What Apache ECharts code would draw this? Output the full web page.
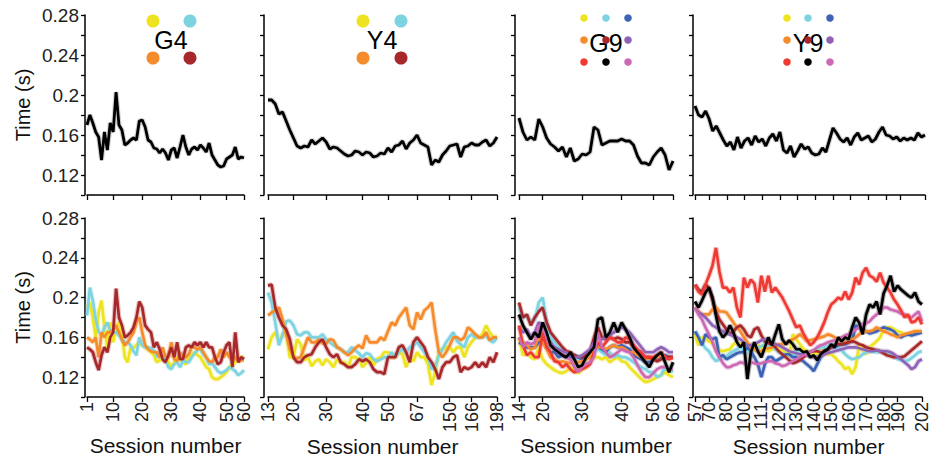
<!DOCTYPE html>
<html><head><meta charset="utf-8">
<script src="https://cdn.jsdelivr.net/npm/echarts@6/dist/echarts.min.js"></script>
<style>html,body{margin:0;padding:0;background:#fff}#c{width:931px;height:460px}</style>
</head><body><div id="c"></div>
<script>
// ---------- categories (session numbers actually plotted) ----------
const g4Sessions = [1,2,3,4,5,6,7,8,9,10,11,12,13,14,15,16,17,18,19,20,21,22,23,24,25,26,27,28,29,30,31,32,33,34,35,36,37,38,39,40,41,42,43,44,46,47,48,49,50,52,54,56,57,58,60];
const y4Sessions = [13,14,15,16,17,18,19,20,21,22,24,25,26,27,28,29,30,31,32,33,34,35,36,37,38,39,40,41,43,44,45,47,48,50,52,54,56,58,60,62,64,67,70,80,90,100,110,120,130,140,150,152,155,158,160,163,166,170,175,180,185,190,194,198];
const g9Sessions = [14,15,16,17,18,19,20,21,22,23,24,25,26,27,28,29,30,31,32,33,34,35,36,37,38,39,40,41,42,43,45,46,47,48,50,52,54,56,58,60];
const y9Sessions = [57,60,63,66,70,72,74,76,78,80,84,88,92,96,100,102,104,106,108,111,113,115,116,118,120,122,124,126,128,130,132,134,136,138,140,142,144,146,148,150,152,154,156,158,160,162,164,166,168,170,172,174,176,178,180,183,185,188,190,192,194,196,198,200,201,202];

// ---------- tick labels ----------
const g4TickSessions = [1,10,20,30,40,50,60];
const y4TickSessions = [13,20,30,40,50,67,150,166,198];
const g9TickSessions = [14,20,30,40,50,60];
const y9TickSessions = [57,70,80,100,111,120,130,140,150,160,170,180,190,202];
const yTickLabels = [0.12,0.16,0.2,0.24,0.28];

// ---------- top row: mean time (s) ----------
const g4Mean = [.170,.180,.172,.163,.158,.135,.163,.145,.172,.163,.203,.170,.165,.150,.152,.155,.157,.155,.174,.175,.168,.155,.153,.147,.146,.142,.146,.142,.135,.145,.147,.137,.148,.160,.148,.140,.146,.148,.145,.150,.147,.143,.152,.140,.135,.130,.128,.129,.136,.138,.140,.148,.136,.138,.137];
const y4Mean = [.195,.195,.191,.181,.183,.174,.165,.157,.149,.147,.149,.148,.155,.151,.154,.157,.153,.146,.148,.147,.144,.141,.139,.140,.144,.143,.140,.143,.142,.138,.139,.142,.141,.147,.143,.149,.150,.154,.146,.152,.155,.160,.152,.150,.148,.130,.135,.133,.140,.144,.149,.150,.151,.138,.148,.149,.152,.150,.150,.153,.155,.149,.152,.158];
const g9Mean = [.177,.163,.155,.158,.155,.176,.168,.157,.151,.148,.144,.148,.138,.147,.134,.136,.141,.140,.143,.168,.165,.150,.152,.154,.154,.154,.156,.154,.154,.150,.139,.132,.132,.130,.138,.143,.147,.140,.125,.134];
const y9Mean = [.189,.180,.178,.184,.176,.164,.169,.162,.155,.149,.153,.145,.158,.147,.154,.157,.150,.159,.153,.156,.149,.157,.161,.154,.163,.145,.142,.149,.138,.144,.151,.146,.148,.142,.140,.141,.147,.143,.155,.167,.162,.156,.153,.157,.150,.158,.162,.155,.157,.159,.153,.156,.163,.168,.160,.159,.156,.158,.154,.157,.155,.157,.155,.162,.158,.160];

// ---------- bottom row: per-individual time (s) ----------
const g4Yellow = [.190,.195,.180,.160,.185,.197,.170,.150,.175,.155,.170,.175,.165,.140,.135,.150,.150,.152,.155,.152,.150,.148,.145,.142,.135,.137,.138,.140,.135,.130,.135,.140,.138,.135,.133,.140,.142,.145,.142,.140,.135,.130,.128,.120,.118,.118,.120,.122,.125,.130,.132,.135,.138,.140,.140];
const g4Cyan = [.182,.210,.197,.178,.166,.162,.170,.175,.166,.165,.165,.162,.158,.155,.155,.152,.146,.142,.160,.152,.150,.150,.149,.147,.141,.140,.140,.137,.130,.128,.133,.135,.130,.137,.135,.135,.140,.144,.147,.148,.143,.140,.133,.134,.130,.126,.124,.125,.127,.130,.128,.126,.122,.124,.127];
const g4Orange = [.160,.158,.155,.160,.140,.165,.160,.165,.165,.168,.172,.165,.158,.152,.155,.160,.165,.175,.180,.165,.152,.148,.146,.145,.145,.140,.150,.140,.140,.155,.138,.136,.145,.140,.140,.143,.150,.150,.148,.150,.145,.140,.136,.135,.140,.140,.148,.140,.145,.140,.138,.140,.136,.137,.137];
const g4DarkRed = [.150,.148,.145,.135,.127,.142,.150,.145,.160,.165,.209,.180,.172,.160,.162,.165,.170,.180,.196,.190,.172,.168,.165,.150,.155,.148,.138,.135,.142,.150,.140,.155,.138,.138,.150,.152,.150,.155,.152,.155,.150,.155,.150,.150,.140,.133,.135,.145,.152,.155,.130,.165,.135,.140,.138];

const y4Yellow = [.148,.160,.165,.156,.163,.165,.140,.140,.158,.153,.137,.140,.131,.136,.138,.132,.138,.135,.130,.138,.135,.135,.130,.140,.140,.138,.130,.134,.140,.132,.138,.140,.145,.145,.140,.140,.145,.143,.130,.140,.136,.145,.140,.140,.133,.112,.125,.145,.148,.150,.150,.145,.150,.150,.140,.150,.155,.160,.160,.163,.172,.165,.160,.160];
const y4Cyan = [.205,.195,.175,.152,.162,.176,.177,.172,.163,.162,.165,.165,.160,.160,.160,.163,.158,.155,.152,.150,.148,.145,.145,.150,.147,.144,.140,.144,.143,.138,.136,.138,.140,.140,.145,.140,.145,.148,.145,.150,.152,.155,.150,.145,.140,.128,.130,.142,.148,.155,.160,.165,.156,.153,.150,.160,.163,.160,.160,.160,.162,.157,.155,.160];
const y4Orange = [.182,.185,.187,.190,.178,.163,.148,.140,.139,.140,.150,.160,.155,.155,.158,.154,.154,.158,.157,.150,.148,.145,.142,.145,.149,.152,.149,.162,.155,.155,.155,.160,.157,.166,.175,.172,.180,.185,.190,.172,.168,.185,.178,.187,.190,.195,.168,.145,.140,.145,.152,.160,.160,.157,.160,.170,.167,.163,.160,.160,.165,.157,.160,.160];
const y4DarkRed = [.212,.213,.190,.180,.172,.168,.158,.140,.135,.135,.140,.142,.143,.150,.155,.158,.150,.143,.140,.143,.135,.133,.130,.130,.133,.138,.136,.138,.135,.128,.125,.125,.123,.140,.140,.140,.150,.152,.145,.135,.155,.160,.155,.150,.140,.135,.128,.118,.130,.135,.135,.140,.142,.125,.130,.128,.130,.135,.130,.135,.130,.140,.135,.145];

const g9Yellow = [.16,.142,.145,.14,.138,.15,.138,.133,.13,.127,.125,.124,.126,.13,.126,.124,.128,.13,.135,.14,.14,.138,.14,.135,.138,.14,.136,.135,.13,.126,.122,.118,.115,.116,.118,.12,.122,.125,.122,.12];
const g9Cyan = [.19,.18,.182,.175,.178,.195,.2,.175,.16,.155,.15,.148,.145,.14,.142,.138,.14,.14,.142,.145,.148,.145,.142,.145,.14,.142,.14,.14,.138,.135,.132,.13,.128,.125,.125,.12,.122,.13,.128,.125];
const g9Blue = [.155,.152,.15,.15,.15,.155,.16,.15,.145,.145,.14,.142,.14,.14,.142,.14,.138,.142,.145,.148,.15,.148,.145,.15,.152,.15,.152,.15,.148,.142,.14,.138,.135,.135,.138,.14,.14,.142,.14,.14];
const g9Orange = [.16,.155,.152,.148,.15,.16,.155,.148,.14,.138,.135,.136,.135,.134,.135,.135,.136,.138,.14,.148,.15,.15,.148,.15,.152,.15,.15,.148,.145,.145,.142,.14,.14,.138,.14,.14,.142,.14,.14,.14];
const g9DarkRed = [.195,.18,.183,.172,.18,.186,.19,.175,.165,.16,.155,.15,.146,.145,.142,.14,.14,.142,.145,.16,.17,.16,.158,.16,.158,.16,.158,.155,.155,.15,.145,.142,.14,.14,.138,.136,.138,.14,.14,.14];
const g9Purple = [.17,.165,.168,.16,.165,.175,.172,.16,.155,.15,.148,.146,.145,.142,.14,.14,.142,.145,.148,.155,.16,.158,.16,.162,.165,.168,.17,.168,.165,.16,.155,.15,.145,.145,.145,.148,.15,.148,.145,.145];
const g9Red = [.172,.152,.142,.145,.14,.14,.165,.15,.145,.136,.135,.13,.133,.128,.125,.126,.128,.13,.133,.145,.155,.15,.155,.16,.158,.155,.155,.16,.158,.152,.148,.145,.14,.14,.14,.142,.145,.14,.138,.14];
const g9Black = [.183,.172,.165,.158,.165,.16,.175,.165,.152,.148,.145,.142,.14,.145,.138,.13,.132,.14,.145,.15,.178,.18,.16,.165,.175,.165,.175,.168,.16,.15,.145,.14,.135,.13,.138,.142,.145,.135,.125,.135];
const g9Pink = [.16,.15,.155,.153,.155,.172,.17,.16,.152,.148,.145,.143,.14,.138,.13,.125,.13,.133,.135,.14,.165,.15,.145,.14,.142,.145,.148,.146,.145,.14,.132,.125,.12,.12,.124,.128,.13,.13,.128,.128];

const y9Yellow = [.163,.152,.160,.158,.156,.154,.150,.147,.146,.147,.148,.153,.154,.153,.150,.148,.147,.148,.152,.150,.148,.146,.148,.150,.148,.146,.144,.142,.163,.158,.153,.148,.146,.144,.143,.144,.146,.145,.143,.143,.140,.136,.133,.128,.130,.123,.130,.152,.148,.143,.150,.153,.156,.160,.168,.170,.170,.168,.166,.165,.163,.163,.164,.166,.166,.166];
const y9Cyan = [.166,.160,.154,.149,.146,.140,.136,.138,.140,.141,.144,.146,.148,.150,.148,.145,.146,.148,.150,.151,.153,.151,.150,.148,.145,.144,.143,.142,.141,.145,.146,.144,.143,.145,.146,.148,.150,.150,.151,.153,.151,.150,.147,.143,.140,.138,.139,.140,.143,.145,.146,.146,.145,.146,.146,.145,.143,.141,.138,.137,.136,.137,.139,.142,.145,.146];
const y9Blue = [.166,.160,.152,.163,.160,.158,.160,.140,.142,.138,.140,.142,.144,.145,.145,.150,.146,.140,.133,.120,.133,.140,.140,.136,.138,.140,.143,.143,.140,.140,.138,.136,.133,.130,.126,.133,.140,.144,.148,.150,.150,.152,.153,.153,.155,.156,.172,.170,.167,.166,.164,.165,.166,.168,.170,.169,.168,.166,.162,.160,.162,.163,.162,.163,.164,.165];
const y9Orange = [.190,.186,.183,.183,.183,.188,.190,.186,.186,.185,.180,.175,.170,.166,.160,.155,.150,.148,.146,.146,.148,.149,.150,.151,.153,.153,.154,.156,.158,.160,.163,.160,.156,.157,.158,.159,.160,.161,.163,.162,.160,.158,.156,.155,.155,.158,.160,.163,.166,.166,.166,.167,.170,.168,.166,.165,.163,.162,.160,.162,.163,.164,.165,.166,.166,.166];
const y9DarkRed = [.213,.208,.206,.213,.210,.198,.186,.178,.173,.168,.163,.166,.170,.172,.168,.162,.160,.168,.170,.162,.156,.154,.153,.150,.146,.143,.140,.137,.134,.135,.137,.140,.143,.145,.146,.146,.145,.146,.148,.150,.152,.153,.153,.154,.155,.156,.155,.153,.152,.150,.149,.148,.147,.146,.144,.142,.141,.140,.140,.140,.141,.144,.147,.150,.153,.156];
const y9Purple = [.190,.185,.183,.180,.176,.172,.170,.168,.166,.165,.163,.161,.160,.158,.155,.152,.152,.153,.155,.157,.158,.157,.155,.153,.152,.150,.148,.146,.145,.144,.143,.143,.142,.141,.140,.140,.141,.143,.144,.145,.146,.147,.148,.149,.150,.150,.150,.149,.148,.147,.146,.146,.147,.146,.146,.146,.145,.143,.140,.138,.135,.132,.128,.130,.136,.138];
const y9Red = [.213,.206,.203,.213,.222,.232,.250,.226,.210,.210,.205,.210,.190,.180,.220,.210,.218,.214,.195,.222,.206,.222,.205,.210,.205,.200,.193,.186,.178,.170,.172,.164,.158,.152,.155,.160,.167,.175,.185,.193,.196,.200,.198,.206,.198,.205,.220,.213,.225,.230,.222,.220,.216,.225,.215,.210,.205,.198,.193,.187,.180,.183,.175,.176,.180,.173];
const y9Black = [.196,.190,.197,.205,.210,.200,.182,.166,.160,.164,.172,.165,.155,.150,.155,.118,.145,.155,.146,.140,.150,.160,.152,.163,.173,.158,.153,.157,.153,.148,.148,.145,.146,.140,.142,.137,.143,.146,.148,.153,.150,.160,.156,.160,.158,.170,.180,.175,.163,.183,.193,.190,.196,.183,.204,.212,.222,.206,.212,.208,.205,.202,.200,.205,.196,.193];
const y9Pink = [.190,.183,.178,.170,.163,.155,.146,.140,.134,.130,.130,.132,.133,.135,.134,.133,.135,.134,.133,.134,.135,.136,.136,.134,.133,.131,.132,.134,.136,.138,.140,.142,.143,.145,.147,.150,.152,.153,.155,.156,.157,.158,.160,.162,.163,.165,.168,.170,.173,.174,.176,.180,.183,.186,.190,.190,.188,.187,.186,.184,.183,.181,.180,.183,.186,.176];

// ---------- colours ----------
const C = {yellow:'#EDE321', cyan:'#7ED3E1', blue:'#3E62B4', orange:'#F58B2B', darkred:'#A7282A', purple:'#9062B6', red:'#EE3A33', black:'#000000', pink:'#CD69B3'};

const panels = [
  {title:'G4', cats:g4Sessions, ticks:g4TickSessions, mean:g4Mean,
   lines:[[g4Yellow,C.yellow],[g4Cyan,C.cyan],[g4Orange,C.orange],[g4DarkRed,C.darkred]],
   left:87, width:157, off:2, legend:{big:true, cx:171, cols:[153,190], rows:[21,58], ty:40,
   colors:[[C.yellow,C.cyan],[C.orange,C.darkred]]}},
  {title:'Y4', cats:y4Sessions, ticks:y4TickSessions, mean:y4Mean,
   lines:[[y4Yellow,C.yellow],[y4Cyan,C.cyan],[y4Orange,C.orange],[y4DarkRed,C.darkred]],
   left:268, width:229, off:4, legend:{big:true, cx:382, cols:[363,401], rows:[21,58], ty:40,
   colors:[[C.yellow,C.cyan],[C.orange,C.darkred]]}},
  {title:'G9', cats:g9Sessions, ticks:g9TickSessions, mean:g9Mean,
   lines:[[g9Yellow,C.yellow],[g9Cyan,C.cyan],[g9Blue,C.blue],[g9Orange,C.orange],[g9DarkRed,C.darkred],[g9Purple,C.purple],[g9Red,C.red],[g9Pink,C.pink],[g9Black,C.black]],
   left:519, width:154, off:4, legend:{big:false, cx:606, cols:[584,606,628], rows:[18,40,62], ty:43,
   colors:[[C.yellow,C.cyan,C.blue],[C.orange,C.darkred,C.purple],[C.red,C.black,C.pink]]}},
  {title:'Y9', cats:y9Sessions, ticks:y9TickSessions, mean:y9Mean,
   lines:[[y9Yellow,C.yellow],[y9Cyan,C.cyan],[y9Blue,C.blue],[y9Orange,C.orange],[y9DarkRed,C.darkred],[y9Purple,C.purple],[y9Pink,C.pink],[y9Red,C.red],[y9Black,C.black]],
   left:695, width:230, off:2, legend:{big:false, cx:808, cols:[787,808,830], rows:[18,40,62], ty:43,
   colors:[[C.yellow,C.cyan,C.blue],[C.orange,C.darkred,C.purple],[C.red,C.black,C.pink]]}}
];

const FONT = "'Liberation Sans', Arial, sans-serif";
const rows = [{top:15, height:180}, {top:218, height:179}];
const grid = [], xAxis = [], yAxis = [], series = [], graphic = [];

panels.forEach((p, pi) => {
  const tickSet = new Set(p.ticks.map(String));
  const showIdx = (i, v) => tickSet.has(String(v));
  rows.forEach((r, ri) => {
    const gi = grid.length;
    grid.push({left:p.left, top:r.top, width:p.width, height:r.height, containLabel:false});
    xAxis.push({
      type:'category', gridIndex:gi, data:p.cats.map(String), boundaryGap:false,
      axisLine:{lineStyle:{color:'#000', width:1.5}},
      axisTick:{show:true, interval:showIdx, length:5, lineStyle:{color:'#000', width:1.3}},
      axisLabel:{show: ri===1, interval:0, rotate:90, fontSize:18, margin:5, color:'#222', fontFamily:FONT,
        hideOverlap:false, formatter: v => tickSet.has(String(v)) ? String(v) : ''},
      splitLine:{show:false},
      name: ri===1 ? 'Session number' : '', nameLocation:'middle', nameGap:38,
      nameTextStyle:{fontSize:21, color:'#111', fontFamily:FONT}
    });
    yAxis.push({
      type:'value', gridIndex:gi, min:0.1, max:0.28, interval:0.02, offset:p.off,
      axisLine:{show:true, lineStyle:{color:'#000', width:1.5}},
      axisTick:{show:true, length:4, lineStyle:{color:'#000', width:1.3}},
      axisLabel:{show: pi===0, margin:6, fontSize:19, color:'#222', fontFamily:FONT,
        formatter: v => { const k = Math.round(v*100)/100; return yTickLabels.some(t => Math.abs(t-k)<1e-6) ? String(k) : ''; }},
      splitLine:{show:false},
      name: pi===0 ? 'Time (s)' : '', nameLocation:'middle', nameGap:52,
      nameTextStyle:{fontSize:20, color:'#111', fontFamily:FONT}
    });
    const lines = ri===0 ? [[p.mean, '#000']] : p.lines;
    lines.forEach(([d, col]) => {
      series.push({type:'line', xAxisIndex:gi, yAxisIndex:gi, data:d, symbol:'none', silent:true,
        lineStyle:{color:col, width:5, opacity: col==='#000' ? 0.18 : 0.28}, z:1});
      series.push({type:'line', xAxisIndex:gi, yAxisIndex:gi, data:d, symbol:'none', silent:true,
        lineStyle:{color:col, width: ri===0 ? 2.8 : 2.7}, z:2});
    });
  });
  // legend + title
  const L = p.legend;
  graphic.push({type:'text', x:L.cx, y:L.ty, z:10,
    style:{text:p.title, fill:'#000', font:'25px ' + FONT, fontSize:25, fontFamily:FONT,
      align:'center', verticalAlign:'middle', textAlign:'center', textVerticalAlign:'middle'}});
  L.colors.forEach((row, rj) => row.forEach((col, cj) => {
    graphic.push({type:'circle', z:20, shape:{cx:L.cols[cj], cy:L.rows[rj], r: L.big ? 6.5 : 3.8},
      style:{fill:col}});
  }));
});

const chart = echarts.init(document.getElementById('c'), null, {renderer:'svg', width:931, height:460});
chart.setOption({animation:false, backgroundColor:'#fff', grid, xAxis, yAxis, series, graphic});
</script></body></html>
